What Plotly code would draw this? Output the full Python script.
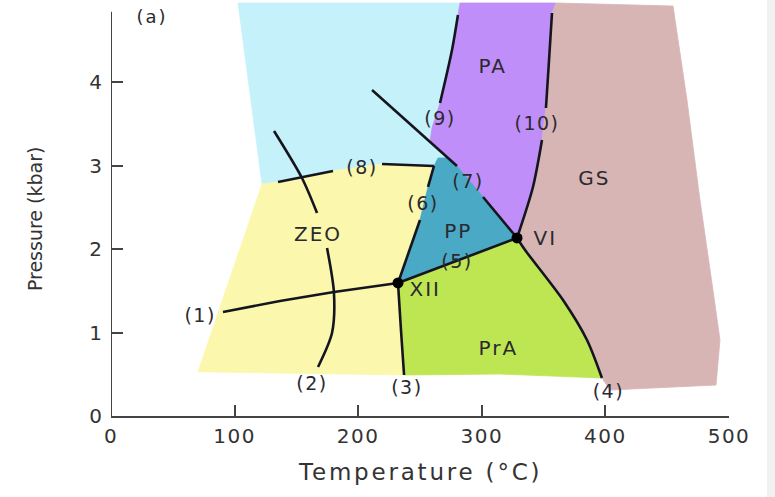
import plotly.graph_objects as go

# ---------------- data (Temperature °C, Pressure kbar) ----------------
XII = (232.2, 1.593)
VI = (328.5, 2.132)

# reaction lines
line1_T = [90.6, 136.7, 180.4, 232.2]
line1_P = [1.246, 1.377, 1.485, 1.593]
line2a_T = [131.9, 154.5, 166.7]
line2a_P = [3.413, 2.850, 2.431]
line2b_T = [174.8, 180.4, 178.8, 167.5]
line2b_P = [2.012, 1.473, 0.994, 0.587]
line3_T = [232.2, 234.6, 237.1]
line3_P = [1.593, 1.030, 0.491]
line4_T = [328.5, 335.0, 365.7, 385.1, 397.2]
line4_P = [2.132, 1.988, 1.389, 0.910, 0.455]
line5_T = [232.2, 328.5]
line5_P = [1.593, 2.132]
line6a_T = [232.2, 250.0]
line6a_P = [1.593, 2.347]
line6b_T = [256.5, 261.3]
line6b_P = [2.743, 2.994]
line7_T = [301.0, 328.5]
line7_P = [2.623, 2.132]
line79_T = [211.2, 279.9]
line79_P = [3.904, 2.994]
line8a_T = [135.1, 179.6]
line8a_P = [2.802, 2.934]
line8b_T = [219.3, 261.3]
line8b_P = [3.018, 2.994]
line9_T = [280.7, 275.9, 266.2]
line9_P = [4.802, 4.383, 3.749]
line10a_T = [356.8, 354.4, 351.9]
line10a_P = [4.826, 4.263, 3.689]
line10b_T = [348.7, 341.4, 328.5]
line10b_P = [3.305, 2.743, 2.132]

# stability fields (polygons)
cyan_T = [102.8, 282.4, 280.7, 275.9, 266.2, 259.7, 258.1, 272.7, 264.6, 261.3, 219.3, 179.6, 135.1, 122.2]
cyan_P = [4.946, 4.946, 4.802, 4.383, 3.749, 3.449, 3.281, 3.090, 3.090, 2.994, 3.018, 2.934, 2.802, 2.778]
pa_T = [282.4, 360.0, 356.8, 354.4, 351.9, 348.7, 341.4, 328.5, 301.0, 279.9, 272.7, 258.1, 259.7, 266.2, 275.9, 280.7]
pa_P = [4.946, 4.946, 4.826, 4.263, 3.689, 3.305, 2.743, 2.132, 2.623, 2.994, 3.090, 3.281, 3.449, 3.749, 4.383, 4.802]
pp_T = [261.3, 264.6, 272.7, 279.9, 301.0, 328.5, 232.2, 250.0, 256.5]
pp_P = [2.994, 3.090, 3.090, 2.994, 2.623, 2.132, 1.593, 2.347, 2.743]
zeo_T = [122.2, 135.1, 179.6, 219.3, 261.3, 256.5, 250.0, 232.2, 234.6, 237.1, 70.4]
zeo_P = [2.778, 2.802, 2.934, 3.018, 2.994, 2.743, 2.347, 1.593, 1.030, 0.491, 0.530]
pra_T = [232.2, 328.5, 335.0, 365.7, 385.1, 397.2, 314.7, 237.1, 234.6]
pra_P = [1.593, 2.132, 1.988, 1.389, 0.910, 0.455, 0.503, 0.491, 1.030]
gs_T = [360.0, 454.7, 466.0, 476.5, 486.2, 492.7, 489.5, 403.7, 397.2, 385.1, 365.7, 335.0, 328.5, 341.4, 348.7, 351.9, 354.4, 356.8]
gs_P = [4.946, 4.910, 3.784, 2.587, 1.593, 0.910, 0.371, 0.311, 0.455, 0.910, 1.389, 1.988, 2.132, 2.743, 3.305, 3.689, 4.263, 4.826]

# labels
field_labels = ["ZEO", "PP", "PA", "GS", "PrA", "VI", "XII"]
field_T = [167.5, 281.0, 308.9, 391.0, 313.4, 351.4, 254.2]
field_P = [2.156, 2.190, 4.170, 2.826, 0.790, 2.108, 1.497]
rxn_labels = ["(1)", "(2)", "(3)", "(4)", "(5)", "(6)", "(7)", "(8)", "(9)", "(10)"]
rxn_T = [72.1, 162.6, 239.4, 402.4, 279.9, 252.4, 288.8, 203.1, 266.2, 344.7]
rxn_P = [1.186, 0.371, 0.323, 0.275, 1.832, 2.527, 2.790, 2.958, 3.545, 3.485]
panel_label = "(a)"
panel_T = [33.2]
panel_P = [4.766]

x_ticks = [0, 100, 200, 300, 400, 500]
x_ticktext = ["0", "100", "200", "300", "400", "500"]
y_ticks = [0, 1, 2, 3, 4]
y_ticktext = ["0", "1", "2", "3", "4"]
x_title = "Temperature (°C)"
y_title = "Pressure (kbar)"

FAM = "DejaVu Sans, Liberation Sans, Arial, sans-serif"
TXT = "#2a2a30"


def spaced(s, px):
    return f"<span style='letter-spacing:{px}px'>{s}</span>"


# ---------------- figure ----------------
fig = go.Figure()

fields = [
    (cyan_T, cyan_P, "#c4f1fa"),
    (pa_T, pa_P, "#c08ef8"),
    (gs_T, gs_P, "#d8b5b5"),
    (zeo_T, zeo_P, "#fbf7ad"),
    (pra_T, pra_P, "#bde652"),
    (pp_T, pp_P, "#4aa9c4"),
]
for T, P, col in fields:
    fig.add_trace(go.Scatter(x=T + [T[0]], y=P + [P[0]], mode="lines", fill="toself",
                             fillcolor=col, line=dict(width=0.8, color=col),
                             hoverinfo="skip", showlegend=False))

line_col = "#15151f"
straight = [(line1_T, line1_P), (line5_T, line5_P), (line6a_T, line6a_P), (line6b_T, line6b_P),
            (line7_T, line7_P), (line79_T, line79_P), (line8a_T, line8a_P), (line8b_T, line8b_P)]
curved = [(line2a_T, line2a_P), (line2b_T, line2b_P), (line3_T, line3_P), (line4_T, line4_P),
          (line9_T, line9_P), (line10a_T, line10a_P), (line10b_T, line10b_P)]
for T, P in straight:
    fig.add_trace(go.Scatter(x=T, y=P, mode="lines", line=dict(color=line_col, width=2.6),
                             hoverinfo="skip", showlegend=False))
for T, P in curved:
    fig.add_trace(go.Scatter(x=T, y=P, mode="lines",
                             line=dict(color=line_col, width=2.6, shape="spline", smoothing=0.8),
                             hoverinfo="skip", showlegend=False))

fig.add_trace(go.Scatter(x=[XII[0], VI[0]], y=[XII[1], VI[1]], mode="markers",
                         marker=dict(color="#000000", size=11), hoverinfo="skip", showlegend=False))

fig.add_trace(go.Scatter(x=field_T, y=field_P, mode="text",
                         text=[spaced(s, 2) for s in field_labels],
                         textfont=dict(family=FAM, size=20, color=TXT),
                         hoverinfo="skip", showlegend=False))
fig.add_trace(go.Scatter(x=rxn_T, y=rxn_P, mode="text",
                         text=[spaced(s, 1.5) for s in rxn_labels],
                         textfont=dict(family=FAM, size=19, color=TXT),
                         hoverinfo="skip", showlegend=False))
fig.add_trace(go.Scatter(x=panel_T, y=panel_P, mode="text",
                         text=[spaced(panel_label, 2)],
                         textfont=dict(family=FAM, size=18, color=TXT),
                         hoverinfo="skip", showlegend=False))

tickfont = dict(family=FAM, size=20, color="#333333")

fig.update_layout(
    width=775, height=497,
    margin=dict(l=111, r=46, t=2, b=81),
    paper_bgcolor="white", plot_bgcolor="white",
    font=dict(family=FAM, size=16, color="#333333"),
    showlegend=False,
    xaxis=dict(range=[0, 500], tickvals=x_ticks, ticktext=[spaced(s, 1.5) for s in x_ticktext],
               ticks="inside", ticklen=11,
               tickwidth=1.5, tickcolor="#444444", showline=True, linecolor="#444444", linewidth=2,
               showgrid=False, zeroline=False, ticklabelstandoff=1, tickfont=tickfont, fixedrange=True),
    yaxis=dict(range=[0, 4.958], tickvals=y_ticks, ticktext=y_ticktext, ticks="inside", ticklen=12,
               tickwidth=1.5, tickcolor="#444444", showline=False, showgrid=False, zeroline=False,
               ticklabelstandoff=8, tickfont=tickfont, fixedrange=True),
    shapes=[
        dict(type="line", xref="x", yref="y", x0=0, x1=0, y0=0, y1=4.84,
             line=dict(color="#444444", width=2)),
        dict(type="rect", xref="paper", yref="paper", x0=1.0615, x1=1.08, y0=-0.2, y1=1.01,
             fillcolor="#f1f1f1", line=dict(width=0), layer="below"),
    ],
    annotations=[
        dict(text=y_title, xref="paper", yref="paper", x=-0.123, y=0.478,
             textangle=-90, showarrow=False, font=dict(family=FAM, size=19, color="#333333"),
             xanchor="center", yanchor="middle"),
        dict(text=spaced(x_title, 2.8), xref="paper", yref="paper", x=0.5, y=-0.135,
             showarrow=False, font=dict(family=FAM, size=23, color="#333333"),
             xanchor="center", yanchor="middle"),
    ],
)

fig.write_html("out.html", config={"displayModeBar": False},
               post_script="document.body.style.margin='0px';")
